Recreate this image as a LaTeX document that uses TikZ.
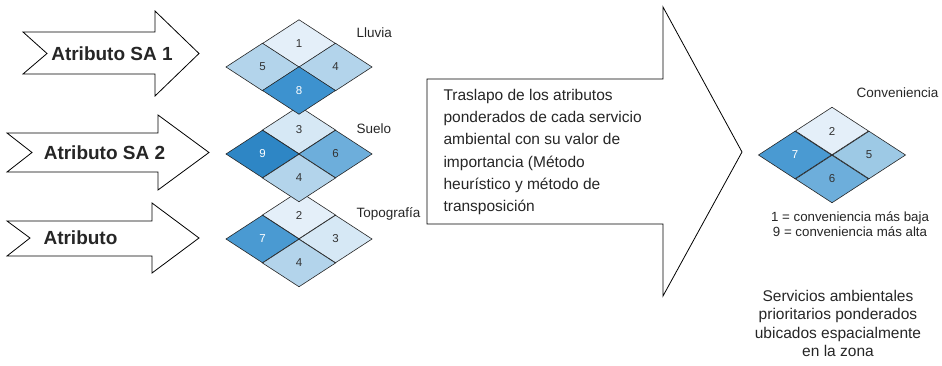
\documentclass[tikz,border=0pt]{standalone}
\usepackage{fontspec}
\setmainfont{Liberation Sans}
\usetikzlibrary{shapes.geometric}

\definecolor{celda1}{HTML}{E4EFF9}
\definecolor{celda2}{HTML}{D6E8F5}
\definecolor{celda3}{HTML}{B3D4EB}
\definecolor{celda4}{HTML}{9DC9E5}
\definecolor{celda5}{HTML}{6DAEDB}
\definecolor{celda6}{HTML}{4A9AD2}
\definecolor{celda7}{HTML}{3D92CF}
\definecolor{celda8}{HTML}{2E86C5}
\definecolor{numero}{HTML}{333333}

\tikzset{
  cell/.style={diamond, draw=black!85, line width=0.6pt, minimum width=73pt,
    minimum height=47.5pt, inner sep=0pt, outer sep=0pt, text=numero,
    font=\fontsize{11.5}{13}\selectfont},
  darkcell/.style={cell, text=white},
  blockarrow/.style={draw=black, line width=0.8pt, fill=white, line join=miter},
  atrtext/.style={font=\fontsize{19}{22}\selectfont\bfseries, text=black!85},
  capa/.style={anchor=west, font=\fontsize{13.5}{16}\selectfont, text=black!85}
}

\begin{document}
\begin{tikzpicture}[x=1pt,y=-1pt]
                      \useasboundingbox (0,0) rectangle (942,366);

                      % flechas de entrada
                      \draw[blockarrow] (23,32) -- (155,32) -- (155,11) -- (199,53.5) -- (155,96) -- (155,74) -- (23,74) -- (47,53.5) -- cycle;
                      \draw[blockarrow] (7,133) -- (158,133) -- (158,115) -- (209,152.5) -- (158,190) -- (158,172) -- (7,172) -- (32,152.5) -- cycle;
                      \draw[blockarrow] (7,221) -- (152,221) -- (152,203) -- (199,238) -- (152,273) -- (152,256) -- (7,256) -- (30,238) -- cycle;
                      \node[atrtext] (atr1) at (112,53.5) {Atributo SA 1};
                      \node[atrtext] (atr2) at (104.5,152.5) {Atributo SA 2};
                      \node[atrtext, anchor=west] (atr3) at (40,238) {Atributo};

                      % capas
                      \node[cell, fill=celda1] (to2) at (299,215) {2};
                      \node[darkcell, fill=celda6] (to7) at (262.5,239) {7};
                      \node[cell, fill=celda2] (to3) at (335.5,239) {3};
                      \node[cell, fill=celda3] (to4) at (299,263) {4};

                      \node[cell, fill=celda2] (su3) at (299,130) {3};
                      \node[darkcell, fill=celda8] (su9) at (262.5,154) {9};
                      \node[cell, fill=celda5] (su6) at (335.5,154) {6};
                      \node[cell, fill=celda3] (su4) at (299,178) {4};

                      \node[cell, fill=celda1] (ll1) at (299,43.5) {1};
                      \node[cell, fill=celda3] (ll5) at (262.5,67) {5};
                      \node[cell, fill=celda3] (ll4) at (335.5,67) {4};
                      \node[darkcell, fill=celda7] (ll8) at (299,90.5) {8};

                      \node[capa] (lluvia) at (353,33) {Lluvia};
                      \node[capa] (suelo) at (353,129) {Suelo};
                      \node[capa] (topo) at (353,214) {Topografía};

                      % flecha central
                      \draw[blockarrow] (427,79) -- (663,79) -- (663,7) -- (742,152) -- (663,296) -- (663,224) -- (427,224) -- cycle;
                      \node[anchor=west, align=left, text=black!85,
                        font=\fontsize{15.5}{22.3}\selectfont] (traslapo) at (440,152)
                        {Traslapo de los atributos\\ponderados de cada servicio\\ambiental con su valor de\\importancia (Método\\heurístico y método de\\transposición};

                      % resultado
                      \node[cell, fill=celda1] (co2) at (832,131) {2};
                      \node[darkcell, fill=celda6] (co7) at (795,155) {7};
                      \node[cell, fill=celda4] (co5) at (869,155) {5};
                      \node[cell, fill=celda5] (co6) at (832,179) {6};
                      \node[capa] (conv) at (853,93) {Conveniencia};

                      \node[align=center, text=black!85, font=\fontsize{13.3}{15}\selectfont] (leyenda) at (850,224.5)
                        {1 = conveniencia más baja\\9 = conveniencia más alta};
                      \node[align=center, text=black!85, font=\fontsize{15.5}{18.3}\selectfont] (servicios) at (838,323.5)
                        {Servicios ambientales\\prioritarios ponderados\\ubicados espacialmente\\en la zona};
                    \end{tikzpicture}
\end{document}
